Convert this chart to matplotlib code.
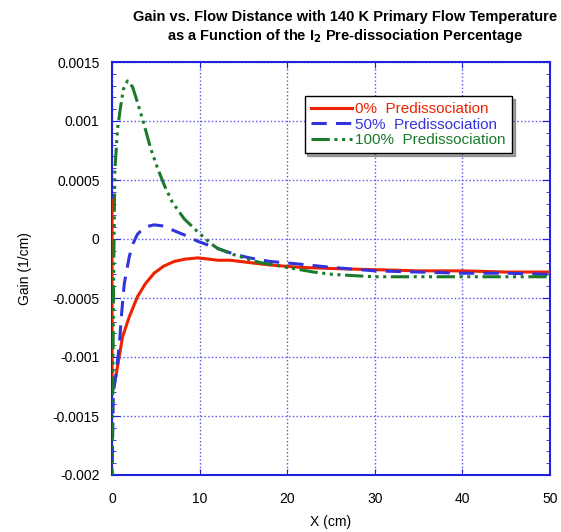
import matplotlib
matplotlib.use("Agg")
import matplotlib.pyplot as plt
from matplotlib.ticker import MultipleLocator

plt.rcParams['font.family'] = ['Liberation Sans', 'DejaVu Sans']

# 0% predissociation
x_red = [0.0, 0.0, 0.05, 0.43, 1.2, 1.97, 2.9, 3.8, 4.8, 5.9, 7.1, 8.4, 9.8, 11.0, 12.06, 13.5,
         15.7, 18.0, 21.4, 25.0, 30.0, 35.0, 40.0, 45.0, 50.0]
y_red = [0.00033, -0.0013, -0.00118, -0.00117, -0.00083, -0.00066, -0.00049, -0.00038, -0.00029,
         -0.00023, -0.00019, -0.00017, -0.00016, -0.00017, -0.00018, -0.00018, -0.0002, -0.00022,
         -0.00024, -0.00025, -0.00026, -0.00027, -0.00027, -0.00028, -0.00028]

# 50% predissociation
x_blue = [0.0, 0.15, 0.4, 0.82, 1.1, 1.4, 1.97, 2.4, 2.9, 3.7, 4.8, 5.9, 7.1, 8.4, 9.8, 12.06,
          14.0, 15.7, 18.0, 21.0, 25.0, 30.0, 35.0, 40.0, 45.0, 50.0]
y_blue = [-0.0021, -0.0013, -0.00118, -0.00091, -0.00063, -0.00038, -0.00015, -0.00004, 0.00004,
          0.0001, 0.00012, 0.00011, 0.00007, 0.00003, -0.00002, -0.00008, -0.00013, -0.00016,
          -0.00019, -0.00021, -0.00024, -0.00027, -0.00028, -0.00029, -0.00029, -0.0003]

# 100% predissociation
x_green = [0.0, 0.1, 0.2, 0.32, 0.63, 0.94, 1.3, 1.77, 2.34, 2.9, 3.7, 4.4, 5.2, 6.0, 6.9, 8.25,
           9.8, 11.3, 12.06, 13.8, 15.5, 16.9, 18.5, 20.7, 23.0, 25.2, 27.5, 30.0, 35.0, 40.0,
           45.0, 50.0]
y_green = [-0.0021, -0.0012, -0.0002, 0.00057, 0.00093, 0.0011, 0.00127, 0.00134, 0.00129,
           0.00116, 0.00096, 0.00077, 0.0006, 0.00045, 0.00031, 0.00017, 0.00006, -0.00004,
           -0.00008, -0.00013, -0.00017, -0.0002, -0.00022, -0.00025, -0.00028, -0.0003,
           -0.00031, -0.00032, -0.00032, -0.00032, -0.00032, -0.00032]

labels = ["0%  Predissociation", "50%  Predissociation", "100%  Predissociation"]
colors = ["#ee2200", "#3333dd", "#1a7a2a"]

fig = plt.figure(figsize=(5.61, 5.32), dpi=100)
ax = fig.add_axes([112/561, 1-475/532, 438/561, 413/532])

l1, = ax.plot(x_red, y_red, color=colors[0], lw=2.2, ls='-', label=labels[0], zorder=3)
l2, = ax.plot(x_blue, y_blue, color=colors[1], lw=2.2, ls=(0, (5, 3)), label=labels[1], zorder=3)
l3, = ax.plot(x_green, y_green, color=colors[2], lw=2.2,
              ls=(0, (6, 1.5, 1, 1.5, 1, 1.5, 1, 1.5)), label=labels[2], zorder=3)

ax.set_xlim(0, 50)
ax.set_ylim(-0.002, 0.0015)
ax.yaxis.set_minor_locator(MultipleLocator(0.0001))
yt = [-0.002, -0.0015, -0.001, -0.0005, 0, 0.0005, 0.001, 0.0015]
ax.set_yticks(yt)
ax.set_yticklabels(["-0.002", "-0.0015", "-0.001", "-0.0005", "0", "0.0005", "0.001", "0.0015"])
ax.set_xticks([0, 10, 20, 30, 40, 50])
ax.set_xticklabels(["0", "10", "20", "30", "40", "50"])

spine_c = "#2222dd"
for s in ax.spines.values():
    s.set_color(spine_c)
    s.set_linewidth(1.5)
ax.grid(True, which='major', color="#5555ee", ls=':', lw=1.0)
ax.tick_params(axis='y', which='both', direction='in', left=True, right=True, color=spine_c,
               labelsize=10, pad=9)
ax.tick_params(axis='y', which='major', length=6)
ax.tick_params(axis='y', which='minor', length=3)
ax.tick_params(axis='x', which='both', direction='in', top=True, bottom=True, color=spine_c,
               length=4, labelsize=10, pad=12)

ax.set_xlabel("X (cm)", fontsize=10, labelpad=7)
ax.set_ylabel("Gain (1/cm)", fontsize=10, labelpad=15)

fig.text(0.615, 0.982,
         "Gain vs. Flow Distance with 140 K Primary Flow Temperature\nas a Function of the I$_\\mathbf{2}$ Pre-dissociation Percentage",
         ha='center', va='top', fontsize=10.5, fontweight='bold', linespacing=1.3)

leg = ax.legend(handles=[l1, l2, l3], loc='upper left', bbox_to_anchor=(0.44, 0.918),
                fontsize=11, frameon=True, fancybox=False, shadow=True, edgecolor='black',
                handlelength=2.7, handletextpad=0.2, labelspacing=0.1, borderpad=0.4,
                borderaxespad=0)
leg.set_zorder(5)
leg.get_frame().set_linewidth(1.0)
for t, c in zip(leg.get_texts(), colors):
    t.set_color(c)

fig.savefig("out.png", dpi=100)
